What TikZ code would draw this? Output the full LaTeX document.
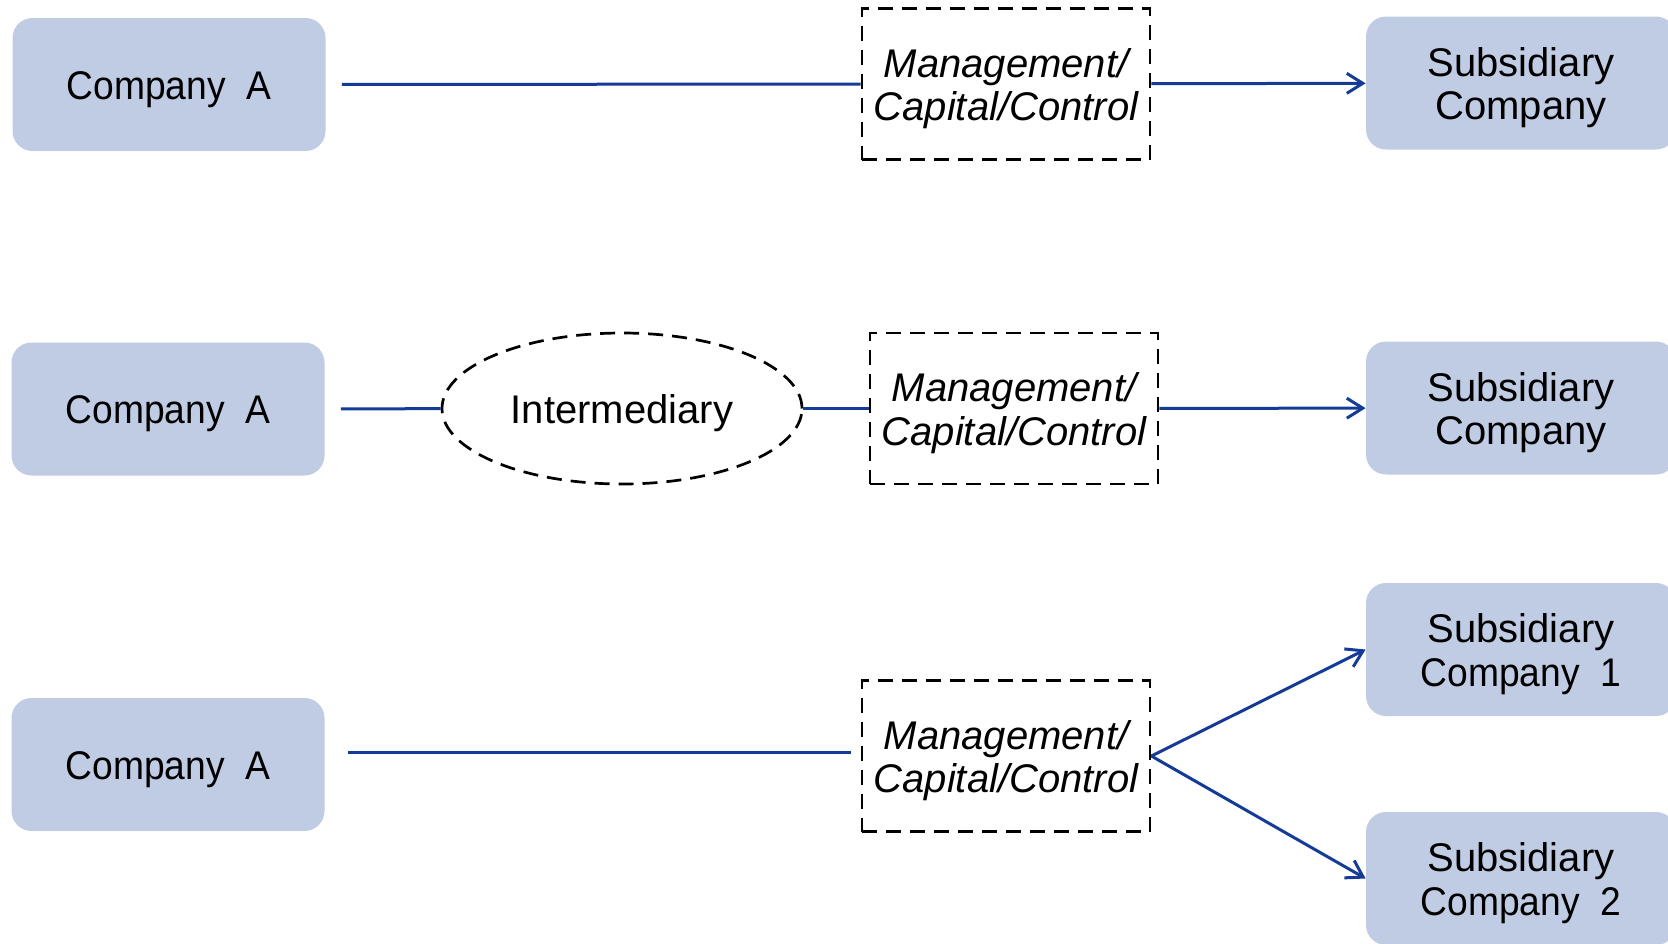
\documentclass[tikz,border=0pt]{standalone}
\usepackage{fontspec}
\setmainfont{Liberation Sans}
\usetikzlibrary{arrows.meta,shapes.geometric}
\definecolor{boxfill}{RGB}{192,204,228}
\definecolor{linkblue}{RGB}{20,60,150}
% narrower setting used for "Company A", "Company 1", ...
\newcommand{\narrow}[1]{\scalebox{0.93}[1]{#1}}
% taller first line, so the text sits a little lower in its box
\newcommand{\topstrut}{\rule{0pt}{19pt}}

\begin{document}
\begin{tikzpicture}[x=0.5pt,y=-0.5pt,
  labeltext/.style={font=\fontsize{20}{21.8}\selectfont},
  entity/.style={labeltext, fill=boxfill, rounded corners=10pt, minimum width=156.5pt,
    minimum height=66.5pt, inner sep=0pt, align=center},
  subbox/.style={entity, minimum width=155pt},
  dashedge/.style={draw=black, line width=1.35pt, dash pattern=on 7.5pt off 4.5pt},
  relbox/.style={dashedge, minimum width=144pt, minimum height=75.5pt,
    inner sep=0pt, align=center, font=\fontsize{20}{21.8}\selectfont\itshape},
  midbox/.style={labeltext, ellipse, dashedge, minimum width=180pt,
    minimum height=75.5pt, inner sep=0pt},
  link/.style={draw=linkblue, line width=1.5pt},
  linkarrow/.style={link, -{Straight Barb[length=8pt,width=10pt]}}
]
\clip (0,0) rectangle (1668,943);

% Direct holding
\node[entity] (a1) at (169,84.5) {\topstrut\narrow{Company\ \ A}};
\node[relbox] (m1) at (1006,84) {\topstrut Management/\\Capital/Control};
\node[subbox] (s1) at (1521,83) {\topstrut Subsidiary\\Company};
\draw[link, shorten <=8pt] (a1) -- (m1);
\draw[linkarrow] (m1) -- (s1);

% Holding through an intermediary
\node[entity] (a2) at (168,409) {\topstrut\narrow{Company\ \ A}};
\node[midbox] (e2) at (622,408.5) {\topstrut Intermediary};
\node[relbox] (m2) at (1014,408.5) {\topstrut Management/\\Capital/Control};
\node[subbox] (s2) at (1521,408) {\topstrut Subsidiary\\Company};
\draw[link, shorten <=8pt] (a2) -- (e2);
\draw[link] (e2) -- (m2);
\draw[linkarrow] (m2) -- (s2);

% One parent, several subsidiaries
\node[entity] (a3) at (168,764.5) {\topstrut\narrow{Company\ \ A}};
\node[relbox] (m3) at (1006,756) {\topstrut Management/\\Capital/Control};
\node[subbox] (s3a) at (1521,649.5) {\topstrut Subsidiary\\\narrow{Company\ \ 1}};
\node[subbox] (s3b) at (1521,878.5) {\topstrut Subsidiary\\\narrow{Company\ \ 2}};
\coordinate (in3) at ([yshift=2pt]m3.west);
\draw[link, shorten <=11.5pt, shorten >=5pt] (a3.east |- in3) -- (in3);
\draw[linkarrow] (m3.east) -- (s3a.west);
\draw[linkarrow] (m3.east) -- (s3b.west);
\end{tikzpicture}
\end{document}
